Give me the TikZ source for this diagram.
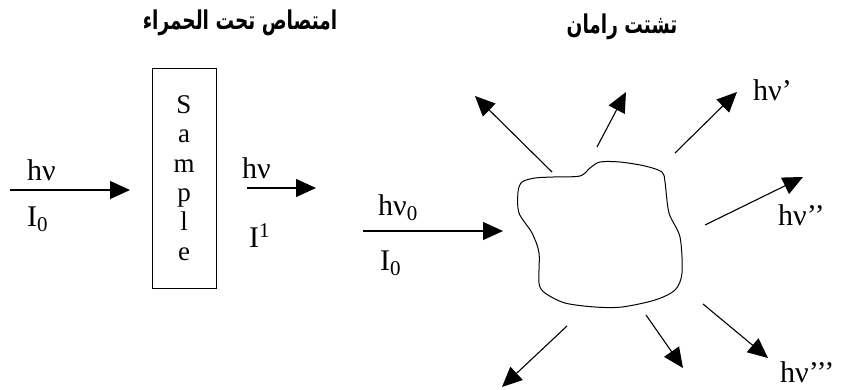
\documentclass[tikz,border=0pt]{standalone}
\usepackage{fontspec}
\setmainfont{Liberation Serif}
\newfontfamily\arabicfont[Script=Arabic]{DejaVu Sans}
\TeXXeTstate=1
\usetikzlibrary{arrows.meta,positioning}

\tikzset{
  ray/.style={-{Triangle[length=20pt,width=18pt]},line width=1.1pt},
  lbl/.style={inner sep=0pt,anchor=base west,font=\fontsize{30}{32}\selectfont},
  ttl/.style={inner sep=0pt,font=\arabicfont\bfseries\fontsize{18.5}{20}\selectfont},
}

\begin{document}
\begin{tikzpicture}[x=1pt,y=-1pt]
\useasboundingbox (0,0) rectangle (844,389);
% titles
\node[ttl] (irtitle) at (240,23) {\scalebox{1}[1.4]{\beginR امتصاص تحت الحمراء\endR}};
\node[ttl] (ramantitle) at (622,27) {\scalebox{1}[1.4]{\beginR تشتت رامان\endR}};
% infrared absorption
\node[draw,line width=1pt,minimum width=64pt,minimum height=220pt,inner sep=0pt,
  align=center,font=\fontsize{27}{29.4}\selectfont] (sample) at (184,178)
  {S\\a\\m\\p\\l\\e};
\coordinate (inA) at (10,190);
\coordinate (inB) at (130,190);
\coordinate (outA) at (247,188);
\coordinate (outB) at (316,188);
\draw[ray](inA)--(inB);
\draw[ray](outA)--(outB);
\node[lbl] (hvin) at (27,180) {hν};
\node[lbl] (iin) at (27,226) {I\textsubscript{0}};
\node[lbl] (hvout) at (242,178) {hν};
\node[lbl] (iout) at (249,247) {I\textsuperscript{1}};
% Raman scattering
\draw[line width=1pt] plot[smooth cycle,tension=0.5] coordinates {
  (522,182) (535,178) (553,177) (580,176) (590,168) (600,162) (620,162)
  (645,166) (662,172) (665,182) (669,213) (680,237) (682,273) (675,290)
  (655,300) (622,307) (595,307) (565,303) (545,293) (539,283) (539,253)
  (532,233) (519,213) (518,192)};
\coordinate (ramanA) at (363,231);
\coordinate (ramanB) at (503,231);
\draw[ray](ramanA)--(ramanB);
\node[lbl] (hvzero) at (378,215) {hν\textsubscript{0}};
\node[lbl] (izero) at (380,270) {I\textsubscript{0}};
% scattered rays
\coordinate (s1) at (552,172); \coordinate (e1) at (475,96);
\coordinate (s2) at (597,147); \coordinate (e2) at (626,92);
\coordinate (s3) at (675,153); \coordinate (e3) at (737,92);
\coordinate (s4) at (705,225); \coordinate (e4) at (803,177);
\coordinate (s5) at (703,304); \coordinate (e5) at (768,358);
\coordinate (s6) at (646,315); \coordinate (e6) at (683,368);
\coordinate (s7) at (567,326); \coordinate (e7) at (502,387);
\draw[ray](s1)--(e1);
\draw[ray](s2)--(e2);
\draw[ray](s3)--(e3);
\draw[ray](s4)--(e4);
\draw[ray](s5)--(e5);
\draw[ray](s6)--(e6);
\draw[ray](s7)--(e7);
\node[lbl] (hvone) at (753,100) {hν’};
\node[lbl] (hvtwo) at (778,225) {hν’’};
\node[lbl] (hvthree) at (780,382) {hν’’’};
\end{tikzpicture}
\end{document}
